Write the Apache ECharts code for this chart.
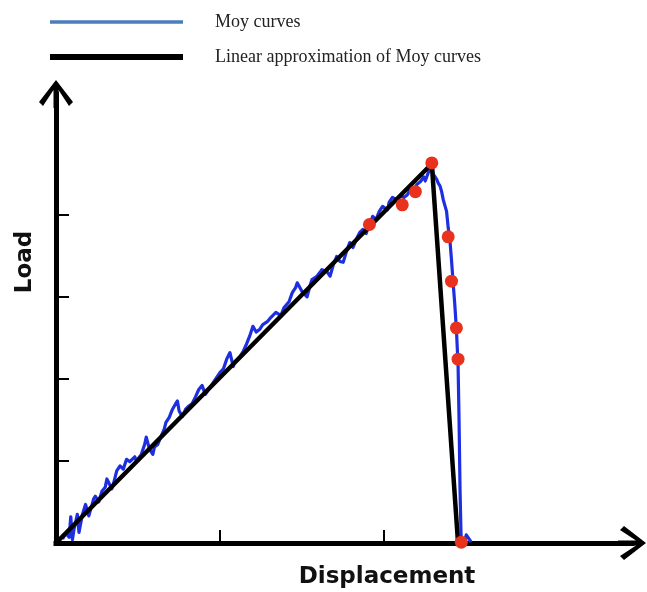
<!DOCTYPE html>
<html>
<head>
<meta charset="utf-8">
<script src="https://cdn.jsdelivr.net/npm/echarts@6/dist/echarts.min.js"></script>
<style>
html,body{margin:0;padding:0;background:#fff;}
#chart{width:647px;height:592px;}
</style>
</head>
<body>
<div id="chart"></div>
<script>
// Measured Moy curve (displacement, load) in axis units (1 unit = one tick interval)
var moyCurve = [
[0.04,0.05],[0.06,0.12],[0.08,0.07],[0.09,0.32],[0.10,0.04],[0.11,0.17],[0.13,0.35],[0.14,0.13],
[0.16,0.34],[0.18,0.47],[0.20,0.33],[0.23,0.54],[0.24,0.57],[0.26,0.50],[0.28,0.63],[0.30,0.68],
[0.31,0.78],[0.34,0.66],[0.35,0.72],[0.37,0.88],[0.39,0.94],[0.41,0.90],[0.43,1.02],[0.45,0.99],
[0.48,1.05],[0.49,1.00],[0.52,1.08],[0.54,1.20],[0.55,1.29],[0.57,1.14],[0.59,1.08],[0.60,1.17],
[0.62,1.20],[0.64,1.30],[0.66,1.39],[0.67,1.47],[0.69,1.53],[0.71,1.63],[0.73,1.70],[0.74,1.73],
[0.75,1.61],[0.77,1.54],[0.79,1.63],[0.81,1.67],[0.83,1.70],[0.85,1.78],[0.87,1.87],[0.89,1.92],
[0.91,1.81],[0.92,1.81],[0.95,1.93],[0.97,1.99],[1.00,2.08],[1.02,2.12],[1.04,2.24],[1.06,2.32],
[1.08,2.15],[1.09,2.21],[1.12,2.27],[1.14,2.33],[1.16,2.42],[1.18,2.52],[1.20,2.64],[1.22,2.57],
[1.24,2.60],[1.26,2.66],[1.29,2.70],[1.31,2.75],[1.34,2.81],[1.37,2.77],[1.39,2.87],[1.40,2.85],
[1.42,2.94],[1.44,3.05],[1.46,3.11],[1.47,3.17],[1.50,3.06],[1.53,3.00],[1.55,3.15],[1.56,3.21],
[1.59,3.25],[1.61,3.30],[1.62,3.33],[1.65,3.31],[1.67,3.25],[1.69,3.39],[1.71,3.49],[1.73,3.43],
[1.75,3.42],[1.77,3.55],[1.79,3.66],[1.81,3.60],[1.83,3.70],[1.85,3.78],[1.87,3.82],[1.89,3.77],
[1.91,3.88],[1.93,3.98],[1.95,3.94],[1.97,4.04],[1.99,4.10],[2.02,4.06],[2.03,4.15],[2.05,4.21],
[2.08,4.18],[2.10,4.23],[2.12,4.21],[2.14,4.24],[2.16,4.31],[2.17,4.27],[2.20,4.37],[2.22,4.40],
[2.24,4.46],[2.25,4.41],[2.27,4.52],[2.28,4.57],[2.29,4.60],[2.30,4.49],[2.32,4.43],[2.33,4.38],
[2.34,4.35],[2.35,4.28],[2.36,4.18],[2.38,4.04],[2.39,3.84],[2.40,3.70],[2.41,3.45],[2.42,3.17],
[2.43,2.91],[2.44,2.60],[2.450,2.18],[2.456,1.51],[2.462,0.66],[2.468,0.11],[2.474,0.00],[2.49,0.02],
[2.50,0.10],[2.52,0.04],[2.53,0.01]
];
// Linear approximation (origin, peak, failure)
var linearApprox = [[0,0],[2.29,4.62],[2.45,0]];
// Highlighted red points
var redPoints = [
[2.29,4.63],[2.19,4.28],[2.11,4.12],[1.91,3.88],[2.39,3.73],[2.41,3.19],[2.44,2.62],[2.45,2.24],[2.47,0.01]
];
var xTicks = [1,2];
var yTicks = [1,2,3,4];
var legendNames = ['Moy curves','Linear approximation of Moy curves'];
var axisTitles = {x:'Displacement', y:'Load'};

var arrow = 'path://M17 0L34 22L30 26L19.5 10L19.5 28L14.5 28L14.5 10L4 26L0 22Z';

var chart = echarts.init(document.getElementById('chart'), null, {renderer:'canvas'});
chart.setOption({
  animation:false,
  backgroundColor:'#fff',
  grid:{left:56, right:15, top:94, bottom:49, containLabel:false},
  legend:{
    orient:'vertical', left:50, top:12, padding:0,
    itemWidth:133, itemHeight:6, itemGap:15, selectedMode:false,
    textStyle:{fontFamily:'Liberation Serif', fontSize:18, color:'#222', lineHeight:20, padding:[0,0,0,27]},
    data:[
      {name:legendNames[0], icon:'path://M0 0h133v0.01h-133zM0 1.2h133v3.6h-133zM0 5.99h133v0.01h-133z', itemStyle:{color:'#4a7ebb'}},
      {name:legendNames[1], icon:'rect', itemStyle:{color:'#000'}}
    ]
  },
  xAxis:{
    type:'value', min:0, max:3.51, interval:1,
    axisLine:{show:true, symbol:['none', arrow], symbolSize:[34,28], lineStyle:{color:'#000', width:5, cap:'square'}},
    axisTick:{show:true, inside:true, length:13, customValues:xTicks, lineStyle:{color:'#000', width:2}},
    axisLabel:{show:false}, splitLine:{show:false}
  },
  yAxis:{
    type:'value', min:0, max:5.47, interval:1,
    axisLine:{show:true, symbol:['none', arrow], symbolSize:[34,28], lineStyle:{color:'#000', width:5, cap:'square'}},
    axisTick:{show:true, inside:true, length:13, customValues:yTicks, lineStyle:{color:'#000', width:2}},
    axisLabel:{show:false}, splitLine:{show:false}
  },
  graphic:[
    {type:'text', x:387, y:577, style:{text:axisTitles.x, font:'bold 23px "DejaVu Sans"', fill:'#111', align:'center', verticalAlign:'middle'}},
    {type:'text', x:25, y:262, rotation:Math.PI/2, style:{text:axisTitles.y, font:'bold 23px "DejaVu Sans"', fill:'#111', align:'center', verticalAlign:'middle'}}
  ],
  series:[
    {name:legendNames[0], type:'line', data:moyCurve, showSymbol:false, z:2,
     lineStyle:{color:'#1d2fe0', width:3.2, join:'round'}, itemStyle:{color:'#1d2fe0'}},
    {name:legendNames[1], type:'line', data:linearApprox, showSymbol:false, z:3,
     lineStyle:{color:'#000', width:4.5, join:'miter'}, itemStyle:{color:'#000'}},
    {name:'points', type:'scatter', data:redPoints, symbolSize:13, z:4,
     itemStyle:{color:'#e8321d', opacity:1}}
  ]
});
</script>
</body>
</html>
